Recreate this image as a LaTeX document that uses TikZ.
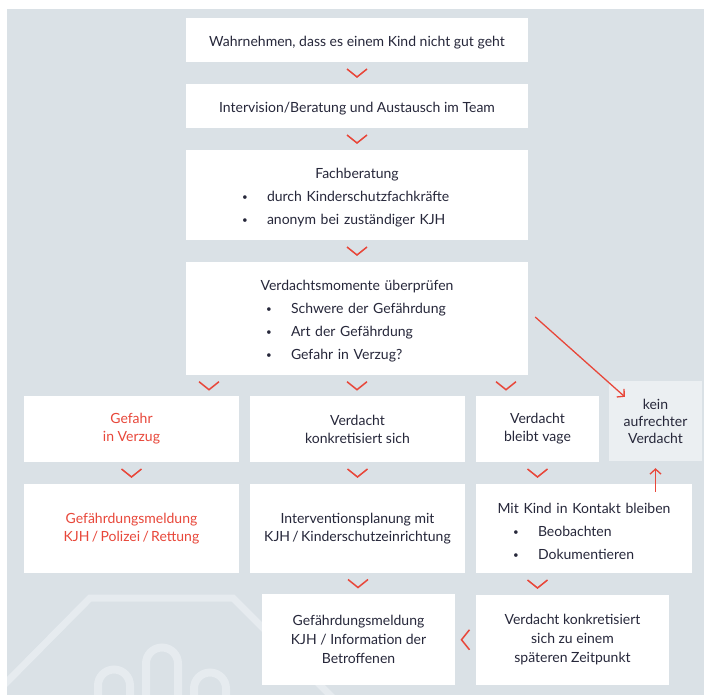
\documentclass[tikz,border=0pt]{standalone}
\usepackage{fontspec}
\setmainfont{Lato}
\usepackage{tikz}
\usetikzlibrary{arrows.meta}
\usetikzlibrary{calc}
\usetikzlibrary{positioning}
\definecolor{kidsGrey}{HTML}{DAE1E6}
\definecolor{kidsLight}{HTML}{EBEFF2}
\definecolor{kidsLine}{HTML}{E6EBEF}
\definecolor{kidsRed}{HTML}{E8473A}
\definecolor{kidsText}{HTML}{26273A}

\newcommand{\dotitem}{\makebox[25pt][l]{\raisebox{1pt}{\scalebox{.7}{\textbullet}}}}
\newcommand{\topstrut}{\rule{0pt}{16pt}}

\begin{document}
\begin{tikzpicture}[x=1pt,y=-1pt]
\tikzset{StepBox/.style={
  fill=white,
  rectangle,
  align=center,
  inner sep=0pt,
  text=kidsText,
  font=\fontsize{14}{18}\selectfont,
  execute at begin node=\topstrut,
}}
\tikzset{ListBox/.style={
  StepBox,
  align=left,
  font=\fontsize{14}{23}\selectfont,
}}
\tikzset{RedLine/.style={
  draw=kidsRed,
  line width=1.5pt,
}}
\tikzset{RedArrow/.style={
  RedLine,
  line width=1.3pt,
  -{Straight Barb[length=5pt,width=11pt]},
}}
\tikzset{HouseLine/.style={draw=kidsLine, line width=8pt}}
\tikzset{ChevDown/.pic={\draw[RedLine] (-10,-4) -- (0,4) -- (10,-4);}}
\tikzset{ChevLeft/.pic={\draw[RedLine] (4,-10) -- (-4,0) -- (4,10);}}

\useasboundingbox (0,0) rectangle (704,695);
\fill[kidsGrey] (7,9) rectangle (704,695);

% house and hand in the background
\begin{scope}
\clip (7,9) rectangle (704,695);
\draw[HouseLine, line width=7pt] (0,689) -- (90,598) -- (233,598) -- (340,705);
\draw[HouseLine] (98,700) -- (98,685.5) arc[start angle=180, end angle=0, radius=16pt] -- (130,700);
\draw[HouseLine] (146,700) -- (146,663.5) arc[start angle=180, end angle=0, radius=16pt] -- (178,700);
\draw[HouseLine] (194,700) -- (194,688.5) arc[start angle=180, end angle=0, radius=16pt] -- (226,700);
\end{scope}

\node[StepBox, minimum width=342pt, minimum height=44pt] (perceive) at (357,40)
  {Wahrnehmen, dass es einem Kind nicht gut geht};
\node[StepBox, minimum width=342pt, minimum height=44pt] (intervision) at (357,106)
  {Intervision/Beratung und Austausch im Team};
\node[ListBox, text width=342pt, minimum height=90pt] (consult) at (357,195)
  {\makebox[\hsize]{Fachberatung}\\
   \hspace*{56pt}\dotitem durch Kinderschutzfachkräfte\\
   \hspace*{56pt}\dotitem anonym bei zuständiger KJH};
\node[ListBox, text width=342pt, minimum height=113pt] (verify) at (357,318.5)
  {\makebox[\hsize]{Verdachtsmomente überprüfen}\\
   \hspace*{80pt}\dotitem Schwere der Gefährdung\\
   \hspace*{80pt}\dotitem Art der Gefährdung\\
   \hspace*{80pt}\dotitem Gefahr in Verzug?};

\node[StepBox, text=kidsRed, minimum width=215pt, minimum height=66pt] (danger) at (131.5,429)
  {Gefahr\\in Verzug};
\node[StepBox, minimum width=215pt, minimum height=66pt] (concrete) at (357.5,429)
  {Verdacht\\konkretisiert sich};
\node[StepBox, minimum width=123pt, minimum height=66pt] (vague) at (537.5,429)
  {Verdacht\\bleibt vage};
\node[StepBox, fill=kidsLight, font=\fontsize{14}{17}\selectfont,
      execute at begin node={}, minimum width=93pt, minimum height=80pt] (noSuspicion) at (655.5,421)
  {kein\\aufrechter\\Verdacht};

\node[StepBox, text=kidsRed, minimum width=215pt, minimum height=89pt] (report) at (131.5,528.5)
  {Gefährdungsmeldung\\KJH\,/\,Polizei\,/\,Rettung};
\node[StepBox, minimum width=215pt, minimum height=89pt] (planning) at (357.5,528.5)
  {Interventionsplanung mit\\KJH\,/\,Kinderschutzeinrichtung};
\node[ListBox, text width=216pt, minimum height=89pt] (contact) at (584,528.5)
  {\makebox[\hsize]{Mit Kind in Kontakt bleiben}\\
   \hspace*{37pt}\dotitem Beobachten\\
   \hspace*{37pt}\dotitem Dokumentieren};

\node[StepBox, font=\fontsize{14}{19}\selectfont,
      minimum width=193pt, minimum height=91pt] (inform) at (358.5,639.5)
  {Gefährdungsmeldung\\KJH / Information der\\Betroffenen};
\node[StepBox, font=\fontsize{14}{19}\selectfont,
      minimum width=193pt, minimum height=90pt] (later) at (572.5,640)
  {Verdacht konkretisiert\\sich zu einem\\späteren Zeitpunkt};

% chevrons between the steps
\pic at ($(perceive.south)!.5!(intervision.north)$) {ChevDown};
\pic at ($(intervision.south)!.5!(consult.north)$) {ChevDown};
\pic at ($(consult.south)!.5!(verify.north)$) {ChevDown};
\pic at ($(verify.south)+(-148,10.5)$) {ChevDown};
\pic at ($(verify.south)+(0,10.5)$) {ChevDown};
\pic at ($(verify.south)+(149,10.5)$) {ChevDown};
\pic at ($(danger.south)!.5!(report.north)$) {ChevDown};
\pic at ($(concrete.south)!.5!(planning.north)$) {ChevDown};
\pic at ($(vague.south)!.5!(vague.south |- contact.north)$) {ChevDown};
\pic at ($(planning.south)!.5!(inform.north)$) {ChevDown};
\pic at ($(vague.south |- contact.south)!.5!(vague.south |- later.north)$) {ChevDown};
\pic at ($(inform.east)!.5!(later.west)$) {ChevLeft};

\draw[RedArrow] ([xshift=7pt,yshift=1.5pt]verify.east) -- ([xshift=16pt,yshift=-16pt]noSuspicion.north west);
\draw[RedArrow] ($(noSuspicion.south |- contact.north)+(0,8)$) -- ($(noSuspicion.south)+(0,7)$);
\end{tikzpicture}
\end{document}
